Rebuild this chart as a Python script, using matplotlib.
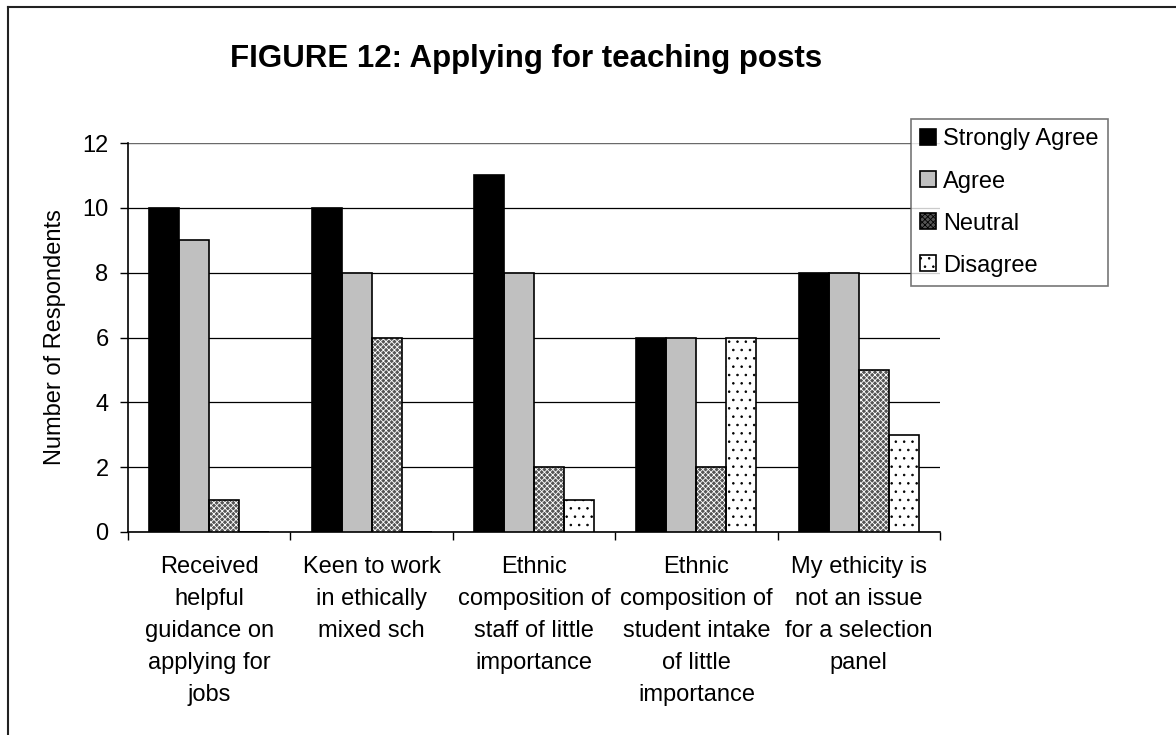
import matplotlib
matplotlib.use('Agg')
import matplotlib.pyplot as plt
import numpy as np
from matplotlib.patches import Patch
from matplotlib.lines import Line2D

plt.rcParams['font.family'] = ['Liberation Sans', 'DejaVu Sans']
plt.rcParams['hatch.linewidth'] = 0.6

categories = ["Received\nhelpful\nguidance on\napplying for\njobs",
              "Keen to work\nin ethically\nmixed sch",
              "Ethnic\ncomposition of\nstaff of little\nimportance",
              "Ethnic\ncomposition of\nstudent intake\nof little\nimportance",
              "My ethicity is\nnot an issue\nfor a selection\npanel"]
series_names = ["Strongly Agree", "Agree", "Neutral", "Disagree"]
strongly_agree = [10, 10, 11, 6, 8]
agree = [9, 8, 8, 6, 8]
neutral = [1, 6, 2, 2, 5]
disagree = [0, 0, 1, 6, 3]

# fill colour, hatch, hatch colour
styles = [("black", None, "black"),
          ("#c0c0c0", None, "#c0c0c0"),
          ("#555555", "xxxxxx", "white"),
          ("white", "..", "black")]

W, H = 1176, 735
fig = plt.figure(figsize=(W / 100, H / 100), dpi=100)
ax = fig.add_axes([128 / W, 1 - 532 / H, (940 - 128) / W, (532 - 143) / H])

x = np.arange(len(categories))
w = 0.185
data = [strongly_agree, agree, neutral, disagree]
for i, vals in enumerate(data):
    fc, hatch, hc = styles[i]
    pos = x + (i - 1.5) * w
    # fill + hatch (hatch takes the edge colour)
    ax.bar(pos, vals, w, color=fc, edgecolor=hc, hatch=hatch, linewidth=0, zorder=3)
    # outline
    ax.bar(pos, vals, w, color='none', edgecolor='black', linewidth=1.2, zorder=4)

ax.set_xlim(-0.5, len(categories) - 0.5)
ax.set_ylim(0, 12)
ax.set_yticks(range(0, 13, 2))
ax.yaxis.grid(True, color='black', linewidth=0.9, zorder=1)
ax.set_axisbelow(True)
ax.axhline(12, color='#808080', linewidth=1.2, zorder=2)

ax.set_xticks(x)
ax.set_xticklabels(categories, fontsize=17, linespacing=1.6)
ax.set_xticks(np.arange(-0.5, len(categories)), minor=True)
ax.tick_params(axis='x', which='major', length=0, pad=17)
ax.tick_params(axis='x', which='minor', length=6, width=1, direction='out')
ax.tick_params(axis='y', length=6, width=1, direction='out', labelsize=17, pad=8)

for s in ['top', 'right']:
    ax.spines[s].set_visible(False)
for s in ['left', 'bottom']:
    ax.spines[s].set_color('black')
    ax.spines[s].set_linewidth(1.2)

fig.text(55 / W, 1 - 337 / H, "Number of Respondents", rotation=90,
         ha='center', va='center', fontsize=17)
fig.text(526 / W, 1 - 59 / H, "FIGURE 12: Applying for teaching posts",
         ha='center', va='center', fontsize=22.5, fontweight='bold')

handles = []
for i, name in enumerate(series_names):
    fc, hatch, hc = styles[i]
    handles.append(Patch(facecolor=fc, edgecolor='black', hatch=hatch, linewidth=1.2, label=name))
leg = fig.legend(handles=handles, loc='upper left',
                 bbox_to_anchor=(911 / W, 1 - 119 / H), bbox_transform=fig.transFigure,
                 borderaxespad=0, fontsize=17, frameon=True, fancybox=False,
                 edgecolor='#555555', handlelength=0.65, handleheight=0.65,
                 handletextpad=0.3, labelspacing=0.85, borderpad=0.4)
leg.get_frame().set_linewidth(1.2)

# outer chart border (top and left edges visible)
fig.add_artist(Line2D([8 / W, 8 / W], [0, 1 - 7 / H], transform=fig.transFigure,
                      color='#222222', linewidth=1.5))
fig.add_artist(Line2D([8 / W, 1], [1 - 7 / H, 1 - 7 / H], transform=fig.transFigure,
                      color='#222222', linewidth=1.5))

fig.savefig('out.png', dpi=100)
